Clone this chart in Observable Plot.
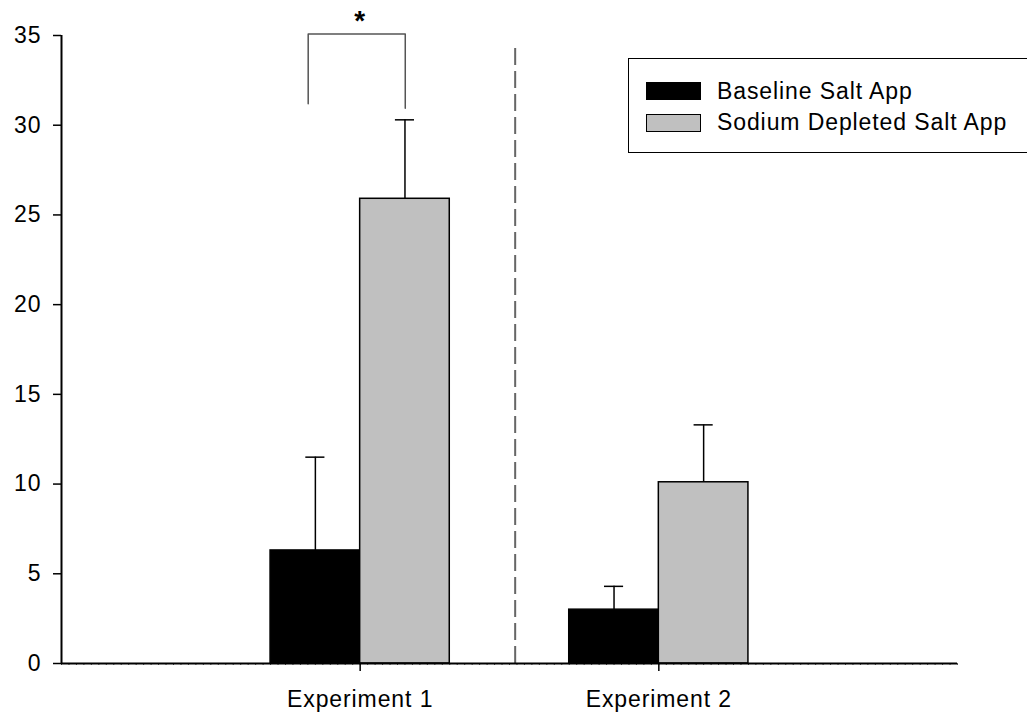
<!DOCTYPE html>
<html>
<head>
<meta charset="utf-8">
<script src="https://cdn.jsdelivr.net/npm/d3@7"></script>
<script src="https://cdn.jsdelivr.net/npm/@observablehq/plot@0.6"></script>
<style>
  html, body { margin: 0; padding: 0; background: #fff; overflow: hidden; }
  #wrap { position: relative; width: 1027px; height: 716px; }
  #legend {
    position: absolute; left: 628px; top: 58px; width: 420px; height: 95px;
    border: 1.5px solid #000; box-sizing: border-box; background: #fff;
    font-family: "Liberation Sans", Arial, sans-serif; font-size: 23px; letter-spacing: 0.9px;
  }
  .row { position: absolute; left: 17px; height: 20px; display: flex; align-items: center; }
  .sw { width: 55px; height: 18px; border: 1.5px solid #000; box-sizing: border-box; margin-right: 16px; }
</style>
</head>
<body>
<div id="wrap"></div>
<script>
const experiments = ["Experiment 1", "Experiment 2"];
const positions = [1, 2];
const series = ["Baseline Salt App", "Sodium Depleted Salt App"];
const colors = ["#000000", "#c0c0c0"];
const baselineMean = [6.3, 3.0];
const baselineErr = [11.5, 4.3];
const depletedMean = [25.9, 10.1];
const depletedErr = [30.3, 13.3];
const yTicks = [0, 5, 10, 15, 20, 25, 30, 35];
const bracket = [[0.826, 31.2], [0.826, 35.08], [1.151, 35.08], [1.151, 30.95]];
const starLabel = "*";
const starY = 35.8;
const dividerX = 1.519;
const dividerTop = 34.6;

const barW = 0.3;
const rows = [];
positions.forEach((p, i) => {
  rows.push({series: series[0], x1: p - barW, x2: p, value: baselineMean[i], err: baselineErr[i]});
  rows.push({series: series[1], x1: p, x2: p + barW, value: depletedMean[i], err: depletedErr[i]});
});
rows.forEach(r => { r.cx = (r.x1 + r.x2) / 2; r.c1 = r.cx - 0.032; r.c2 = r.cx + 0.032; });
const minor = d3.range(0, 3.0001, 0.025);

const chart = Plot.plot({
  width: 1027,
  height: 716,
  marginLeft: 61,
  marginRight: 70,
  marginTop: 35,
  marginBottom: 53,
  style: {fontFamily: "'Liberation Sans', Arial, sans-serif", fontSize: "23px", letterSpacing: "0.9px", color: "#000", background: "#fff", overflow: "visible"},
  x: {domain: [0, 3], label: null},
  y: {domain: [0, 35], label: null},
  color: {domain: series, range: colors},
  marks: [
    Plot.ruleX([dividerX], {y1: 0, y2: dividerTop, stroke: "#666", strokeWidth: 2, strokeDasharray: "17,6"}),
    Plot.ruleX(rows, {x: "cx", y1: "value", y2: "err", stroke: "#000", strokeWidth: 1.5}),
    Plot.ruleY(rows, {y: "err", x1: "c1", x2: "c2", stroke: "#000", strokeWidth: 1.5}),
    Plot.rectY(rows, {x1: "x1", x2: "x2", y1: 0, y2: "value", fill: "series", stroke: "#000", strokeWidth: 1.5}),
    Plot.line(bracket, {x: d => d[0], y: d => d[1], stroke: "#555", strokeWidth: 1.5}),
    Plot.text([starLabel], {x: positions[0], y: starY, text: d => d, fontSize: 28, fontWeight: "bold"}),
    Plot.axisX({ticks: minor, tickSize: 2, tickFormat: () => "", stroke: "#555", label: null}),
    Plot.axisX({ticks: positions, tickSize: 8, tickPadding: 19, tickFormat: d => experiments[positions.indexOf(d)], strokeWidth: 1.5, label: null}),
    Plot.axisY({ticks: yTicks, tickSize: 8, tickPadding: 12, strokeWidth: 1.5, label: null}),
    Plot.ruleY([0], {x1: 0, x2: 3, stroke: "#000", strokeWidth: 2}),
    Plot.ruleX([0], {y1: 0, y2: 35, stroke: "#000", strokeWidth: 2})
  ]
});
const wrap = document.getElementById("wrap");
wrap.appendChild(chart);

const legend = document.createElement("div");
legend.id = "legend";
series.forEach((s, i) => {
  const row = document.createElement("div");
  row.className = "row";
  row.style.top = (22 + i * 31.5) + "px";
  const sw = document.createElement("div");
  sw.className = "sw";
  sw.style.background = colors[i];
  const t = document.createElement("span");
  t.textContent = s;
  row.appendChild(sw);
  row.appendChild(t);
  legend.appendChild(row);
});
wrap.appendChild(legend);
</script>
</body>
</html>
